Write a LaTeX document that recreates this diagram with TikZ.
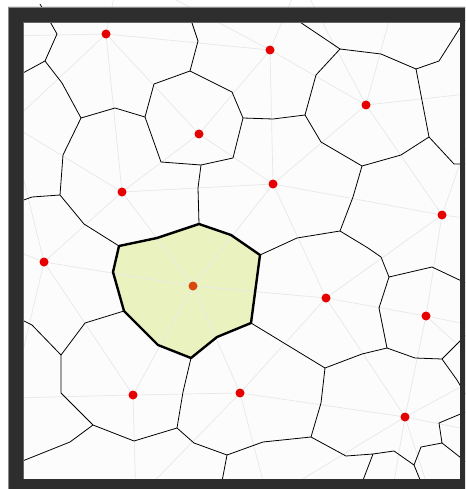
\documentclass[tikz,border=0pt]{standalone}
\definecolor{framegray}{HTML}{2E2E2E}
\definecolor{frameedge}{HTML}{8A8A8A}
\definecolor{cellgreen}{HTML}{EAF3BF}
\definecolor{dotred}{HTML}{E60000}
\definecolor{dothl}{HTML}{D9480B}
\definecolor{delgray}{HTML}{E8E8E8}
\tikzset{
  vor/.style={black, line width=0.8pt, line join=round},
  hl/.style={black, line width=2.4pt, line join=round},
  del/.style={delgray, line width=0.7pt},
  site/.style={circle, fill=dotred, inner sep=0pt, minimum size=9pt},
  sitehl/.style={circle, fill=dothl, inner sep=0pt, minimum size=9pt},
}
\begin{document}
\begin{tikzpicture}[x=1pt,y=-1pt]
\useasboundingbox (0,0) rectangle (465,489);
\clip (0,0) rectangle (465,489);
\fill[white] (0,0) rectangle (465,489);
\fill[white!99!black] (23,22) rectangle (460,479);
% sites
\coordinate (s1) at (106,34);
\coordinate (s2) at (270,50);
\coordinate (s3) at (366,105);
\coordinate (s4) at (199,134);
\coordinate (s5) at (122,192);
\coordinate (s6) at (273,184);
\coordinate (s7) at (442,215);
\coordinate (s8) at (44,262);
\coordinate (s9) at (193,286);
\coordinate (s10) at (326,298);
\coordinate (s11) at (426,316);
\coordinate (s12) at (133,395);
\coordinate (s13) at (240,393);
\coordinate (s14) at (405,417);
% hidden outer sites
\coordinate (oA) at (10,36);
\coordinate (oT1) at (120,-30);
\coordinate (oB) at (10,124);
\coordinate (oT2) at (300,-20);
\coordinate (oC) at (392,10);
\coordinate (oD) at (485,92);
\coordinate (oE) at (495,222);
\coordinate (oE2) at (495,330);
\coordinate (oI) at (488,372);
\coordinate (oM) at (480,432);
\coordinate (oN) at (432,500);
\coordinate (oO) at (390,505);
\coordinate (oJ) at (268,500);
\coordinate (oK) at (136,500);
\coordinate (oH) at (12,398);
\coordinate (oL) at (8,248);
% highlighted cell fill
\fill[cellgreen] (119,246)--(157,238)--(199,224)--(231,235)--(260,255)--(251,323)--(217,337)--(191,358)--(158,345)--(124,311)--(113,272)--cycle;
% Delaunay edges
\draw[del] (s1)--(s2) (s1)--(s4) (s1)--(s5) (s1)--(oA) (s1)--(oT1) (s1)--(oB);
\draw[del] (s2)--(s4) (s2)--(s6) (s2)--(s3) (s2)--(oT1) (s2)--(oT2);
\draw[del] (s3)--(s6) (s3)--(s7) (s3)--(oT2) (s3)--(oC) (s3)--(oD);
\draw[del] (s4)--(s5) (s4)--(s6);
\draw[del] (s5)--(s6) (s5)--(s9) (s5)--(s8) (s5)--(oB);
\draw[del] (s6)--(s9) (s6)--(s10) (s6)--(s7);
\draw[del] (s7)--(s10) (s7)--(s11) (s7)--(oD) (s7)--(oE);
\draw[del] (s8)--(s9) (s8)--(s12) (s8)--(oB) (s8)--(oL) (s8)--(oH);
\draw[del] (s9)--(s10) (s9)--(s13) (s9)--(s12);
\draw[del] (s10)--(s11) (s10)--(s14) (s10)--(s13);
\draw[del] (s11)--(s14) (s11)--(oE2) (s11)--(oI);
\draw[del] (s12)--(s13) (s12)--(oK) (s12)--(oH);
\draw[del] (s13)--(s14) (s13)--(oJ) (s13)--(oK);
\draw[del] (s14)--(oI) (s14)--(oM) (s14)--(oN) (s14)--(oO) (s14)--(oJ);
% Voronoi edges
\draw[vor] (40,4)--(57,34)--(45,61)--(10,80);
\draw[vor] (45,61)--(62,83)--(81,118)--(115,108)--(145,117);
\draw[vor] (81,118)--(63,155)--(60,195)--(32,197)--(10,205);
\draw[vor] (60,195)--(84,224)--(119,246);
\draw[vor] (145,117)--(154,84)--(190,71)--(232,92)--(243,118)--(233,158)--(201,165)--(161,162)--cycle;
\draw[vor] (190,71)--(198,41)--(187,8);
\draw[vor] (201,165)--(198,188)--(199,224);
\draw[vor] (243,118)--(273,119)--(305,115)--(316,75)--(340,49)--(285,12);
\draw[vor] (340,49)--(381,54)--(416,69)--(439,61)--(465,20);
\draw[vor] (416,69)--(429,137)--(454,164)--(470,164);
\draw[vor] (305,115)--(321,142)--(362,166)--(401,155)--(429,137);
\draw[vor] (362,166)--(353,197)--(340,231)--(297,238)--(260,255);
\draw[vor] (340,231)--(368,248)--(381,257)--(389,277)--(432,267)--(470,285);
\draw[vor] (389,277)--(379,308)--(387,348)--(415,358)--(442,359)--(468,333);
\draw[vor] (442,359)--(457,380)--(470,402);
\draw[vor] (387,348)--(362,354)--(325,368)--(251,323);
\draw[vor] (325,368)--(321,403)--(311,437)--(263,442)--(227,455)--(194,443)--(177,428)--(183,392)--(191,358);
\draw[vor] (311,437)--(346,456)--(373,454)--(394,451)--(414,465)--(421,447)--(442,443)--(439,423)--(470,410);
\draw[vor] (373,454)--(360,488);
\draw[vor] (414,465)--(425,492);
\draw[vor] (442,443)--(470,465);
\draw[vor] (227,455)--(220,492);
\draw[vor] (177,428)--(134,441)--(93,425)--(61,393)--(61,355)--(85,323)--(124,311);
\draw[vor] (61,355)--(32,325)--(10,314);
\draw[vor] (93,425)--(70,442)--(15,464);
% highlighted cell border
\draw[hl] (119,246)--(157,238)--(199,224)--(231,235)--(260,255)--(251,323)--(217,337)--(191,358)--(158,345)--(124,311)--(113,272)--cycle;
% site dots
\foreach \s in {s1,s2,s3,s4,s5,s6,s7,s8,s10,s11,s12,s13,s14}
  \node[site] (d\s) at (\s) {};
\node[sitehl] (ds9) at (s9) {};
% frame
\fill[framegray, even odd rule] (8,7) rectangle (480,500) (23,22) rectangle (460,479);
\draw[frameedge, line width=1pt] (8.5,520)--(8.5,7.5)--(480,7.5);
\draw[frameedge!60!framegray, line width=0.8pt] (23,479)--(23,22)--(460,22);
\end{tikzpicture}
\end{document}
